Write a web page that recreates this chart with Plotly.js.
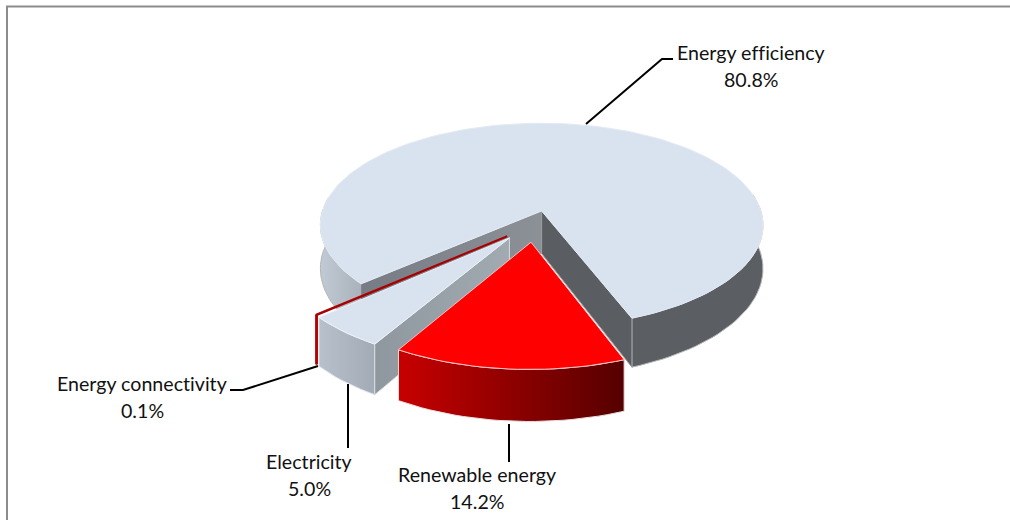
<!DOCTYPE html>
<html>
<head>
<meta charset="utf-8">
<script src="https://cdn.plot.ly/plotly-3.0.1.min.js"></script>
<style>html,body{margin:0;padding:0;background:#fff}#chart{width:1010px;height:520px}text{font-variant-ligatures:none;font-feature-settings:"liga" 0,"clig" 0,"dlig" 0;letter-spacing:0.01px}</style>
</head>
<body>
<div id="chart"></div>
<script>
const categories = ['Energy efficiency', 'Renewable energy', 'Electricity', 'Energy connectivity'];
const shares = [80.8, 14.2, 5.0, 0.1];

// how far each slice is pulled out of the pie, in pie-radius units
const offsetU = [0.012, -0.035, -0.13, -0.14];
const offsetV = [-0.06, 0.24, 0.20, 0.185];

const CX = 539, CY = 217, RX = 221, RY = 101.6, PERSP = 0.14, DEPTH = 43, START = 311.5;
const FONT = 'Lato, "Open Sans", sans-serif';
const rad = d => d * Math.PI / 180;
const total = shares.reduce((a, b) => a + b, 0);

// slice angular spans, running clockwise from START
let cursor = START;
const spans = shares.map(s => { const a = cursor, b = cursor - s / total * 360; cursor = b; return [a, b]; });

function project(i, deg, r, down) {
  const u = offsetU[i] + r * Math.sin(rad(deg));
  const v = offsetV[i] + r * Math.cos(rad(deg));
  const w = 1 - PERSP * v;
  return [CX + RX * u / w, CY + RY * v / w + (down ? DEPTH / w : 0)];
}
function arc(i, a, b, down) {
  const pts = [], n = Math.max(2, Math.ceil(Math.abs(a - b) / 2));
  for (let k = 0; k <= n; k++) pts.push(project(i, a + (b - a) * k / n, 1, down));
  return pts;
}
function poly(pts, fill, extra) {
  const closed = pts.concat([pts[0]]);
  return Object.assign({
    type: 'scatter', mode: 'lines', x: closed.map(p => p[0]), y: closed.map(p => p[1]),
    fill: 'toself', fillcolor: fill, line: {width: 0, color: fill}, hoverinfo: 'skip', showlegend: false
  }, extra || {});
}
const grad = (c0, c1, start, stop) => ({type: 'horizontal', start, stop, colorscale: [[0, c0], [1, c1]]});
const edge = c => ({width: 1, color: c});

function wall(i, a, b) { return arc(i, a, b, false).concat(arc(i, a, b, true).reverse()); }
function flank(i, deg) {
  return [project(i, 0, 0, false), project(i, deg, 1, false), project(i, deg, 1, true), project(i, 0, 0, true)];
}
function face(i) { return [project(i, 0, 0, false)].concat(arc(i, spans[i][0], spans[i][1], false)); }

const traces = [];
const [s0, s1, s2, s3] = spans;
// Energy efficiency
traces.push(poly(wall(0, s0[0], 262), '#aab', {fillgradient: grad('#c3cbd6', '#a9b1bb', 318, 362), line: edge('#b5b5b5')}));
traces.push(poly(wall(0, s0[1], 100), '#5b5e62', {line: edge('#b8b8b8')}));
traces.push(poly(flank(0, s0[0]), '#80848b', {fillgradient: grad('#777b83', '#8c9097', 359, 541)}));
traces.push(poly(flank(0, s0[1]), '#5a5d61', {line: edge('#9a9da0')}));
traces.push(poly(face(0), '#d9e3f0', {line: edge('#e4eaf3')}));
// Electricity
traces.push(poly(wall(2, s2[0], s2[1]), '#aab', {fillgradient: grad('#b9c2cd', '#a0a9b4', 315, 378), line: edge('#e4e8ee')}));
traces.push(poly(flank(2, s2[0]), '#98a1a9', {fillgradient: grad('#8f979f', '#a2abb2', 378, 512), line: edge('#d6dbe0')}));
traces.push(poly(face(2), '#d9e3f0', {line: edge('#eef2f7')}));
// Energy connectivity
traces.push(poly(wall(3, s3[0], s3[1]), '#a80000', {line: {width: 2, color: '#b80000'}}));
traces.push(poly(face(3), '#a80000', {line: {width: 2, color: '#a80000'}}));
// Renewable energy
traces.push(poly(wall(1, s1[0], s1[1]), '#900', {fillgradient: grad('#c80000', '#540000', 397, 628), line: edge('#eadede')}));
traces.push(poly(face(1), '#ff0000', {line: edge('#f2c4c4')}));

// leader lines and label placement
const leaders = [
  [[586, 124], [662, 59], [673, 59]],
  [[509, 424], [509, 462]],
  [[348, 384], [348, 448]],
  [[318, 366], [243, 390], [230, 390]]
];
const labelX = [751, 477, 309, 142];
const labelY = [52, 474, 461, 383];
const LINE = 27;
leaders.forEach(l => traces.push({
  type: 'scatter', mode: 'lines', x: l.map(p => p[0]), y: l.map(p => p[1]),
  line: {color: '#000', width: 2}, hoverinfo: 'skip', showlegend: false
}));

const annotations = [];
const note = (x, y, text) => annotations.push({
  x, y, xref: 'x', yref: 'y', text, showarrow: false, xanchor: 'center', yanchor: 'middle',
  font: {family: FONT, size: 19.6, color: '#111'}
});
categories.forEach((c, i) => {
  note(labelX[i], labelY[i], c);
  note(labelX[i], labelY[i] + LINE, shares[i].toFixed(1) + '%');
});

const hidden = {visible: false, fixedrange: true};
Plotly.newPlot('chart', traces, {
  width: 1010, height: 520, margin: {l: 0, r: 0, t: 0, b: 0},
  paper_bgcolor: '#fff', plot_bgcolor: '#fff', showlegend: false,
  xaxis: Object.assign({range: [0, 1010]}, hidden),
  yaxis: Object.assign({range: [520, 0]}, hidden),
  annotations,
  shapes: [{type: 'path', path: 'M 7 520 L 7 6.5 L 1010 6.5', xref: 'x', yref: 'y', line: {color: '#8c8c8c', width: 2}}]
}, {displayModeBar: false, staticPlot: true});
</script>
</body>
</html>
